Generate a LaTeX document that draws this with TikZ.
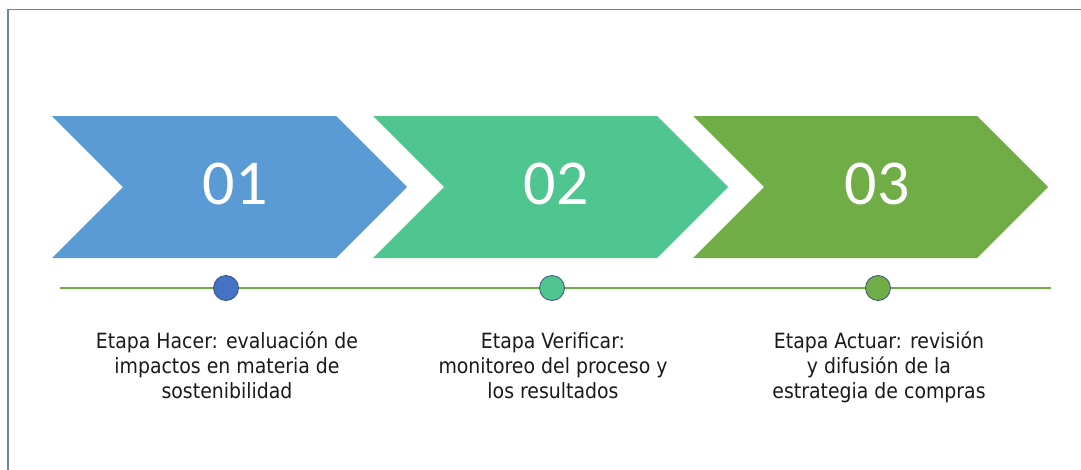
\documentclass[tikz,border=0pt]{standalone}
\usepackage{fontspec}
\setmainfont{DejaVu Sans Condensed}
\newfontfamily\numfont{Carlito}
\definecolor{frameC}{HTML}{6F81AE}
\definecolor{chevA}{HTML}{5B9BD5}
\definecolor{chevB}{HTML}{4FC690}
\definecolor{chevC}{HTML}{70AD47}
\definecolor{dotA}{HTML}{4472C4}
\definecolor{dotLine}{HTML}{3A4F7F}
\definecolor{txtC}{HTML}{1A1A1A}
\tikzset{
  framestyle/.style={draw=frameC, line width=1.5pt},
  numstyle/.style={text=white, font=\numfont\fontsize{64}{64}\selectfont, inner sep=0pt},
  timeline/.style={draw=chevC, line width=1.5pt},
  dotstyle/.style={circle, draw=dotLine, line width=0.8pt, minimum size=25pt, inner sep=0pt},
  lblstyle/.style={text=txtC, align=center, inner sep=0pt, font=\fontsize{21}{25}\selectfont}
}
\begin{document}
\begin{tikzpicture}[x=1pt,y=-1pt]
\useasboundingbox (0,0) rectangle (1081,469);
\draw[framestyle] (8,470) -- (8,9.5) -- (1082,9.5);
\foreach \x/\c in {52/chevA,373/chevB,693/chevC}{
  \fill[\c] (\x,116) -- (\x+284,116) -- (\x+355,187) -- (\x+284,258) -- (\x,258) -- (\x+71,187) -- cycle;
}
\node[numstyle] (n1) at (235,184) {01};
\node[numstyle] (n2) at (556,184) {02};
\node[numstyle] (n3) at (877,184) {03};
\coordinate (ls) at (60,288);
\coordinate (le) at (1051,288);
\draw[timeline] (ls) -- (le);
\node[dotstyle, fill=dotA] (d1) at (226,288) {};
\node[dotstyle, fill=chevB] (d2) at (552,288) {};
\node[dotstyle, fill=chevC] (d3) at (878,288) {};
\node[lblstyle, anchor=base] (t1) at (227,398) {Etapa Hacer: evaluación de\\impactos en materia de\\sostenibilidad};
\node[lblstyle, anchor=base] (t2) at (553,398) {Etapa Verificar:\\monitoreo del proceso y\\los resultados};
\node[lblstyle, anchor=base] (t3) at (879,398) {Etapa Actuar: revisión\\y difusión de la\\estrategia de compras};
\end{tikzpicture}
\end{document}
